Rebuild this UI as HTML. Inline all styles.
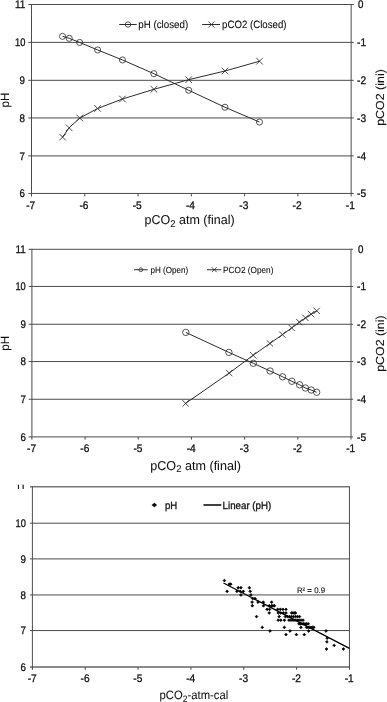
<!DOCTYPE html>
<html lang="en"><head><meta charset="utf-8"><title>pH vs pCO2 charts</title>
<style>
html,body{margin:0;padding:0;background:#fff;}
svg{display:block;font-family:"Liberation Sans",sans-serif;}
text{stroke:#111;stroke-width:0.1px;text-rendering:geometricPrecision;}
text.t{stroke-width:0.06px;}
text.k{stroke-width:0.3px;}
</style></head><body>
<svg width="387" height="702" viewBox="0 0 387 702">
<defs><clipPath id="c3"><rect x="0" y="484.5" width="387" height="218"/></clipPath><clipPath id="c11"><rect x="0" y="484.5" width="30" height="4.55"/></clipPath></defs>
<rect width="387" height="702" fill="#fff"/>
<line x1="28.30" y1="4.50" x2="353.75" y2="4.50" stroke="#4c4c4c" stroke-width="1"/>
<line x1="28.30" y1="42.38" x2="353.75" y2="42.38" stroke="#4c4c4c" stroke-width="1"/>
<line x1="28.30" y1="80.32" x2="353.75" y2="80.32" stroke="#4c4c4c" stroke-width="1"/>
<line x1="28.30" y1="117.95" x2="353.75" y2="117.95" stroke="#4c4c4c" stroke-width="1"/>
<line x1="28.30" y1="155.90" x2="353.75" y2="155.90" stroke="#4c4c4c" stroke-width="1"/>
<line x1="28.30" y1="193.45" x2="353.75" y2="193.45" stroke="#4c4c4c" stroke-width="1"/>
<line x1="31.50" y1="4.00" x2="31.50" y2="196.45" stroke="#4c4c4c" stroke-width="1"/>
<line x1="351.15" y1="4.00" x2="351.15" y2="196.45" stroke="#4c4c4c" stroke-width="1"/>
<line x1="84.78" y1="193.45" x2="84.78" y2="196.45" stroke="#4c4c4c" stroke-width="1"/>
<line x1="138.05" y1="193.45" x2="138.05" y2="196.45" stroke="#4c4c4c" stroke-width="1"/>
<line x1="191.32" y1="193.45" x2="191.32" y2="196.45" stroke="#4c4c4c" stroke-width="1"/>
<line x1="244.60" y1="193.45" x2="244.60" y2="196.45" stroke="#4c4c4c" stroke-width="1"/>
<line x1="297.88" y1="193.45" x2="297.88" y2="196.45" stroke="#4c4c4c" stroke-width="1"/>
<text class="k" x="25.40" y="8.25" font-size="11" text-anchor="end" textLength="10.34" lengthAdjust="spacingAndGlyphs" fill="#111111">11</text>
<text class="k" x="25.40" y="46.13" font-size="11" text-anchor="end" textLength="10.34" lengthAdjust="spacingAndGlyphs" fill="#111111">10</text>
<text class="k" x="24.90" y="84.07" font-size="11" text-anchor="end" textLength="5.44" lengthAdjust="spacingAndGlyphs" fill="#111111">9</text>
<text class="k" x="24.90" y="121.70" font-size="11" text-anchor="end" textLength="5.44" lengthAdjust="spacingAndGlyphs" fill="#111111">8</text>
<text class="k" x="24.90" y="159.65" font-size="11" text-anchor="end" textLength="5.44" lengthAdjust="spacingAndGlyphs" fill="#111111">7</text>
<text class="k" x="24.90" y="197.20" font-size="11" text-anchor="end" textLength="5.44" lengthAdjust="spacingAndGlyphs" fill="#111111">6</text>
<text class="k" x="358.00" y="8.15" font-size="11" textLength="5.44" lengthAdjust="spacingAndGlyphs" fill="#111111">0</text>
<text class="k" x="357.00" y="46.03" font-size="11" textLength="9.05" lengthAdjust="spacingAndGlyphs" fill="#111111">-1</text>
<text class="k" x="357.00" y="83.97" font-size="11" textLength="9.05" lengthAdjust="spacingAndGlyphs" fill="#111111">-2</text>
<text class="k" x="357.00" y="121.60" font-size="11" textLength="9.05" lengthAdjust="spacingAndGlyphs" fill="#111111">-3</text>
<text class="k" x="357.00" y="159.55" font-size="11" textLength="9.05" lengthAdjust="spacingAndGlyphs" fill="#111111">-4</text>
<text class="k" x="357.00" y="197.10" font-size="11" textLength="9.05" lengthAdjust="spacingAndGlyphs" fill="#111111">-5</text>
<text class="k" x="30.70" y="209.30" font-size="11" text-anchor="middle" textLength="9.05" lengthAdjust="spacingAndGlyphs" fill="#111111">-7</text>
<text class="k" x="83.98" y="209.30" font-size="11" text-anchor="middle" textLength="9.05" lengthAdjust="spacingAndGlyphs" fill="#111111">-6</text>
<text class="k" x="137.25" y="209.30" font-size="11" text-anchor="middle" textLength="9.05" lengthAdjust="spacingAndGlyphs" fill="#111111">-5</text>
<text class="k" x="190.52" y="209.30" font-size="11" text-anchor="middle" textLength="9.05" lengthAdjust="spacingAndGlyphs" fill="#111111">-4</text>
<text class="k" x="243.80" y="209.30" font-size="11" text-anchor="middle" textLength="9.05" lengthAdjust="spacingAndGlyphs" fill="#111111">-3</text>
<text class="k" x="297.07" y="209.30" font-size="11" text-anchor="middle" textLength="9.05" lengthAdjust="spacingAndGlyphs" fill="#111111">-2</text>
<text class="k" x="350.35" y="209.30" font-size="11" text-anchor="middle" textLength="9.05" lengthAdjust="spacingAndGlyphs" fill="#111111">-1</text>
<polyline points="62.55,36.35 69.25,38.35 79.65,42.45 97.65,49.95 122.45,59.95 153.85,73.65 188.65,90.25 224.95,107.25 259.45,122.05" fill="none" stroke="#2c2c2c" stroke-width="1"/>
<polyline points="62.55,137.10 69.15,127.80 79.75,118.00 97.65,108.50 122.45,99.00 153.95,89.30 188.65,79.70 224.95,71.00 259.55,61.20" fill="none" stroke="#2c2c2c" stroke-width="1"/>
<circle cx="62.55" cy="36.35" r="3.05" fill="none" stroke="#2c2c2c" stroke-width="0.8"/>
<circle cx="69.25" cy="38.35" r="3.05" fill="none" stroke="#2c2c2c" stroke-width="0.8"/>
<circle cx="79.65" cy="42.45" r="3.05" fill="none" stroke="#2c2c2c" stroke-width="0.8"/>
<circle cx="97.65" cy="49.95" r="3.05" fill="none" stroke="#2c2c2c" stroke-width="0.8"/>
<circle cx="122.45" cy="59.95" r="3.05" fill="none" stroke="#2c2c2c" stroke-width="0.8"/>
<circle cx="153.85" cy="73.65" r="3.05" fill="none" stroke="#2c2c2c" stroke-width="0.8"/>
<circle cx="188.65" cy="90.25" r="3.05" fill="none" stroke="#2c2c2c" stroke-width="0.8"/>
<circle cx="224.95" cy="107.25" r="3.05" fill="none" stroke="#2c2c2c" stroke-width="0.8"/>
<circle cx="259.45" cy="122.05" r="3.05" fill="none" stroke="#2c2c2c" stroke-width="0.8"/>
<path d="M59.25 133.80L65.85 140.40M59.25 140.40L65.85 133.80" stroke="#2c2c2c" stroke-width="0.85" fill="none"/>
<path d="M65.85 124.50L72.45 131.10M65.85 131.10L72.45 124.50" stroke="#2c2c2c" stroke-width="0.85" fill="none"/>
<path d="M76.45 114.70L83.05 121.30M76.45 121.30L83.05 114.70" stroke="#2c2c2c" stroke-width="0.85" fill="none"/>
<path d="M94.35 105.20L100.95 111.80M94.35 111.80L100.95 105.20" stroke="#2c2c2c" stroke-width="0.85" fill="none"/>
<path d="M119.15 95.70L125.75 102.30M119.15 102.30L125.75 95.70" stroke="#2c2c2c" stroke-width="0.85" fill="none"/>
<path d="M150.65 86.00L157.25 92.60M150.65 92.60L157.25 86.00" stroke="#2c2c2c" stroke-width="0.85" fill="none"/>
<path d="M185.35 76.40L191.95 83.00M185.35 83.00L191.95 76.40" stroke="#2c2c2c" stroke-width="0.85" fill="none"/>
<path d="M221.65 67.70L228.25 74.30M221.65 74.30L228.25 67.70" stroke="#2c2c2c" stroke-width="0.85" fill="none"/>
<path d="M256.25 57.90L262.85 64.50M256.25 64.50L262.85 57.90" stroke="#2c2c2c" stroke-width="0.85" fill="none"/>
<line x1="119.20" y1="24.50" x2="136.70" y2="24.50" stroke="#2c2c2c" stroke-width="1"/>
<circle cx="128.00" cy="24.50" r="2.75" fill="none" stroke="#2c2c2c" stroke-width="0.8"/>
<text class="l" x="138.30" y="28.10" font-size="10.6" textLength="49.90" lengthAdjust="spacingAndGlyphs" fill="#111111">pH (closed)</text>
<line x1="202.20" y1="24.50" x2="220.00" y2="24.50" stroke="#2c2c2c" stroke-width="1"/>
<path d="M208.40 21.50L214.40 27.50M208.40 27.50L214.40 21.50" stroke="#2c2c2c" stroke-width="0.85" fill="none"/>
<text class="l" x="222.10" y="28.10" font-size="10.6" textLength="64.40" lengthAdjust="spacingAndGlyphs" fill="#111111">pCO2 (Closed)</text>
<text class="t" x="9.40" y="107.40" font-size="12" textLength="14.90" lengthAdjust="spacingAndGlyphs" transform="rotate(-90 9.40 107.40)" fill="#111111">pH</text>
<text class="t" x="383.70" y="125.80" font-size="11.7" textLength="56.60" lengthAdjust="spacingAndGlyphs" transform="rotate(-90 383.70 125.80)" fill="#111111">pCO2 (ini)</text>
<text class="t" x="144.6" y="224.45" font-size="12.8" fill="#111111" textLength="90.0" lengthAdjust="spacingAndGlyphs">pCO<tspan font-size="9.8" dy="2.6">2</tspan><tspan dy="-2.6"> atm (final)</tspan></text>
<line x1="28.70" y1="249.30" x2="353.10" y2="249.30" stroke="#4c4c4c" stroke-width="1"/>
<line x1="28.70" y1="286.45" x2="353.10" y2="286.45" stroke="#4c4c4c" stroke-width="1"/>
<line x1="28.70" y1="324.25" x2="353.10" y2="324.25" stroke="#4c4c4c" stroke-width="1"/>
<line x1="28.70" y1="361.55" x2="353.10" y2="361.55" stroke="#4c4c4c" stroke-width="1"/>
<line x1="28.70" y1="399.25" x2="353.10" y2="399.25" stroke="#4c4c4c" stroke-width="1"/>
<line x1="28.70" y1="436.90" x2="353.10" y2="436.90" stroke="#4c4c4c" stroke-width="1"/>
<line x1="31.90" y1="248.80" x2="31.90" y2="439.60" stroke="#4c4c4c" stroke-width="1"/>
<line x1="351.00" y1="248.80" x2="351.00" y2="439.60" stroke="#4c4c4c" stroke-width="1"/>
<line x1="85.08" y1="436.90" x2="85.08" y2="439.60" stroke="#4c4c4c" stroke-width="1"/>
<line x1="138.27" y1="436.90" x2="138.27" y2="439.60" stroke="#4c4c4c" stroke-width="1"/>
<line x1="191.45" y1="436.90" x2="191.45" y2="439.60" stroke="#4c4c4c" stroke-width="1"/>
<line x1="244.63" y1="436.90" x2="244.63" y2="439.60" stroke="#4c4c4c" stroke-width="1"/>
<line x1="297.82" y1="436.90" x2="297.82" y2="439.60" stroke="#4c4c4c" stroke-width="1"/>
<text class="k" x="25.80" y="253.05" font-size="11" text-anchor="end" textLength="10.34" lengthAdjust="spacingAndGlyphs" fill="#111111">11</text>
<text class="k" x="25.80" y="290.20" font-size="11" text-anchor="end" textLength="10.34" lengthAdjust="spacingAndGlyphs" fill="#111111">10</text>
<text class="k" x="26.00" y="328.00" font-size="11" text-anchor="end" textLength="5.44" lengthAdjust="spacingAndGlyphs" fill="#111111">9</text>
<text class="k" x="26.00" y="365.30" font-size="11" text-anchor="end" textLength="5.44" lengthAdjust="spacingAndGlyphs" fill="#111111">8</text>
<text class="k" x="26.00" y="403.00" font-size="11" text-anchor="end" textLength="5.44" lengthAdjust="spacingAndGlyphs" fill="#111111">7</text>
<text class="k" x="26.00" y="440.65" font-size="11" text-anchor="end" textLength="5.44" lengthAdjust="spacingAndGlyphs" fill="#111111">6</text>
<text class="k" x="358.00" y="252.95" font-size="11" textLength="5.44" lengthAdjust="spacingAndGlyphs" fill="#111111">0</text>
<text class="k" x="357.00" y="290.10" font-size="11" textLength="9.05" lengthAdjust="spacingAndGlyphs" fill="#111111">-1</text>
<text class="k" x="357.00" y="327.90" font-size="11" textLength="9.05" lengthAdjust="spacingAndGlyphs" fill="#111111">-2</text>
<text class="k" x="357.00" y="365.20" font-size="11" textLength="9.05" lengthAdjust="spacingAndGlyphs" fill="#111111">-3</text>
<text class="k" x="357.00" y="402.90" font-size="11" textLength="9.05" lengthAdjust="spacingAndGlyphs" fill="#111111">-4</text>
<text class="k" x="357.00" y="440.55" font-size="11" textLength="9.05" lengthAdjust="spacingAndGlyphs" fill="#111111">-5</text>
<text class="k" x="31.60" y="452.30" font-size="11" text-anchor="middle" textLength="9.05" lengthAdjust="spacingAndGlyphs" fill="#111111">-7</text>
<text class="k" x="84.78" y="452.30" font-size="11" text-anchor="middle" textLength="9.05" lengthAdjust="spacingAndGlyphs" fill="#111111">-6</text>
<text class="k" x="137.97" y="452.30" font-size="11" text-anchor="middle" textLength="9.05" lengthAdjust="spacingAndGlyphs" fill="#111111">-5</text>
<text class="k" x="191.15" y="452.30" font-size="11" text-anchor="middle" textLength="9.05" lengthAdjust="spacingAndGlyphs" fill="#111111">-4</text>
<text class="k" x="244.33" y="452.30" font-size="11" text-anchor="middle" textLength="9.05" lengthAdjust="spacingAndGlyphs" fill="#111111">-3</text>
<text class="k" x="297.52" y="452.30" font-size="11" text-anchor="middle" textLength="9.05" lengthAdjust="spacingAndGlyphs" fill="#111111">-2</text>
<text class="k" x="350.70" y="452.30" font-size="11" text-anchor="middle" textLength="9.05" lengthAdjust="spacingAndGlyphs" fill="#111111">-1</text>
<polyline points="185.80,332.40 228.90,352.40 253.30,363.30 270.10,371.00 282.60,376.80 291.90,381.30 299.60,384.80 305.40,388.00 311.20,390.00 316.70,392.30" fill="none" stroke="#2c2c2c" stroke-width="1"/>
<polyline points="185.60,403.35 229.20,373.05 253.10,355.25 269.90,343.45 282.40,334.65 291.70,327.95 299.40,322.15 305.50,317.95 311.20,314.15 316.70,310.85" fill="none" stroke="#2c2c2c" stroke-width="1"/>
<circle cx="185.80" cy="332.40" r="3.2" fill="none" stroke="#2c2c2c" stroke-width="0.8"/>
<circle cx="228.90" cy="352.40" r="3.2" fill="none" stroke="#2c2c2c" stroke-width="0.8"/>
<circle cx="253.30" cy="363.30" r="3.2" fill="none" stroke="#2c2c2c" stroke-width="0.8"/>
<circle cx="270.10" cy="371.00" r="3.2" fill="none" stroke="#2c2c2c" stroke-width="0.8"/>
<circle cx="282.60" cy="376.80" r="3.2" fill="none" stroke="#2c2c2c" stroke-width="0.8"/>
<circle cx="291.90" cy="381.30" r="3.2" fill="none" stroke="#2c2c2c" stroke-width="0.8"/>
<circle cx="299.60" cy="384.80" r="3.2" fill="none" stroke="#2c2c2c" stroke-width="0.8"/>
<circle cx="305.40" cy="388.00" r="3.2" fill="none" stroke="#2c2c2c" stroke-width="0.8"/>
<circle cx="311.20" cy="390.00" r="3.2" fill="none" stroke="#2c2c2c" stroke-width="0.8"/>
<circle cx="316.70" cy="392.30" r="3.2" fill="none" stroke="#2c2c2c" stroke-width="0.8"/>
<path d="M182.40 400.15L188.80 406.55M182.40 406.55L188.80 400.15" stroke="#2c2c2c" stroke-width="0.85" fill="none"/>
<path d="M226.00 369.85L232.40 376.25M226.00 376.25L232.40 369.85" stroke="#2c2c2c" stroke-width="0.85" fill="none"/>
<path d="M249.90 352.05L256.30 358.45M249.90 358.45L256.30 352.05" stroke="#2c2c2c" stroke-width="0.85" fill="none"/>
<path d="M266.70 340.25L273.10 346.65M266.70 346.65L273.10 340.25" stroke="#2c2c2c" stroke-width="0.85" fill="none"/>
<path d="M279.20 331.45L285.60 337.85M279.20 337.85L285.60 331.45" stroke="#2c2c2c" stroke-width="0.85" fill="none"/>
<path d="M288.50 324.75L294.90 331.15M288.50 331.15L294.90 324.75" stroke="#2c2c2c" stroke-width="0.85" fill="none"/>
<path d="M296.20 318.95L302.60 325.35M296.20 325.35L302.60 318.95" stroke="#2c2c2c" stroke-width="0.85" fill="none"/>
<path d="M302.30 314.75L308.70 321.15M302.30 321.15L308.70 314.75" stroke="#2c2c2c" stroke-width="0.85" fill="none"/>
<path d="M308.00 310.95L314.40 317.35M308.00 317.35L314.40 310.95" stroke="#2c2c2c" stroke-width="0.85" fill="none"/>
<path d="M313.50 307.65L319.90 314.05M313.50 314.05L319.90 307.65" stroke="#2c2c2c" stroke-width="0.85" fill="none"/>
<line x1="134.10" y1="269.75" x2="147.80" y2="269.75" stroke="#2c2c2c" stroke-width="1"/>
<circle cx="140.80" cy="269.75" r="1.9" fill="none" stroke="#2c2c2c" stroke-width="0.8"/>
<text class="l" x="150.40" y="273.30" font-size="8.9" textLength="37.70" lengthAdjust="spacingAndGlyphs" fill="#111111">pH (Open)</text>
<line x1="207.00" y1="269.75" x2="221.30" y2="269.75" stroke="#2c2c2c" stroke-width="1"/>
<path d="M211.80 267.35L216.60 272.15M211.80 272.15L216.60 267.35" stroke="#2c2c2c" stroke-width="0.85" fill="none"/>
<text class="l" x="223.10" y="273.30" font-size="8.9" textLength="50.30" lengthAdjust="spacingAndGlyphs" fill="#111111">PCO2 (Open)</text>
<text class="t" x="9.40" y="350.80" font-size="12" textLength="14.90" lengthAdjust="spacingAndGlyphs" transform="rotate(-90 9.40 350.80)" fill="#111111">pH</text>
<text class="t" x="383.70" y="371.80" font-size="11.7" textLength="56.40" lengthAdjust="spacingAndGlyphs" transform="rotate(-90 383.70 371.80)" fill="#111111">pCO2 (ini)</text>
<text class="t" x="150.3" y="469.6" font-size="12.8" fill="#111111" textLength="90.6" lengthAdjust="spacingAndGlyphs">pCO<tspan font-size="9.8" dy="2.6">2</tspan><tspan dy="-2.6"> atm (final)</tspan></text>
<g clip-path="url(#c3)">
<line x1="30.00" y1="486.75" x2="349.45" y2="486.75" stroke="#777" stroke-width="1.7"/>
<line x1="30.00" y1="523.20" x2="349.45" y2="523.20" stroke="#4c4c4c" stroke-width="1"/>
<line x1="30.00" y1="558.90" x2="349.45" y2="558.90" stroke="#4c4c4c" stroke-width="1"/>
<line x1="30.00" y1="594.95" x2="349.45" y2="594.95" stroke="#4c4c4c" stroke-width="1"/>
<line x1="30.00" y1="630.55" x2="349.45" y2="630.55" stroke="#4c4c4c" stroke-width="1"/>
<line x1="30.00" y1="667.00" x2="349.45" y2="667.00" stroke="#666" stroke-width="1.5"/>
<line x1="32.40" y1="486.25" x2="32.40" y2="669.80" stroke="#4c4c4c" stroke-width="1"/>
<line x1="349.45" y1="486.25" x2="349.45" y2="667.50" stroke="#4c4c4c" stroke-width="1"/>
<line x1="85.24" y1="667.00" x2="85.24" y2="669.80" stroke="#4c4c4c" stroke-width="1"/>
<line x1="138.08" y1="667.00" x2="138.08" y2="669.80" stroke="#4c4c4c" stroke-width="1"/>
<line x1="190.93" y1="667.00" x2="190.93" y2="669.80" stroke="#4c4c4c" stroke-width="1"/>
<line x1="243.77" y1="667.00" x2="243.77" y2="669.80" stroke="#4c4c4c" stroke-width="1"/>
<line x1="296.61" y1="667.00" x2="296.61" y2="669.80" stroke="#4c4c4c" stroke-width="1"/>
<line x1="349.45" y1="667.00" x2="349.45" y2="669.80" stroke="#4c4c4c" stroke-width="1"/>
<g clip-path="url(#c11)">
<text class="k" x="25.90" y="489.75" font-size="11" text-anchor="end" textLength="10.34" lengthAdjust="spacingAndGlyphs" fill="#111111">11</text>
</g>
<text class="k" x="25.90" y="526.85" font-size="11" text-anchor="end" textLength="10.34" lengthAdjust="spacingAndGlyphs" fill="#111111">10</text>
<text class="k" x="25.90" y="562.55" font-size="11" text-anchor="end" textLength="5.44" lengthAdjust="spacingAndGlyphs" fill="#111111">9</text>
<text class="k" x="25.90" y="598.60" font-size="11" text-anchor="end" textLength="5.44" lengthAdjust="spacingAndGlyphs" fill="#111111">8</text>
<text class="k" x="25.90" y="634.20" font-size="11" text-anchor="end" textLength="5.44" lengthAdjust="spacingAndGlyphs" fill="#111111">7</text>
<text class="k" x="25.90" y="670.65" font-size="11" text-anchor="end" textLength="5.44" lengthAdjust="spacingAndGlyphs" fill="#111111">6</text>
<text class="k" x="32.20" y="682.20" font-size="11" text-anchor="middle" textLength="9.05" lengthAdjust="spacingAndGlyphs" fill="#111111">-7</text>
<text class="k" x="85.04" y="682.20" font-size="11" text-anchor="middle" textLength="9.05" lengthAdjust="spacingAndGlyphs" fill="#111111">-6</text>
<text class="k" x="137.88" y="682.20" font-size="11" text-anchor="middle" textLength="9.05" lengthAdjust="spacingAndGlyphs" fill="#111111">-5</text>
<text class="k" x="190.73" y="682.20" font-size="11" text-anchor="middle" textLength="9.05" lengthAdjust="spacingAndGlyphs" fill="#111111">-4</text>
<text class="k" x="243.57" y="682.20" font-size="11" text-anchor="middle" textLength="9.05" lengthAdjust="spacingAndGlyphs" fill="#111111">-3</text>
<text class="k" x="296.41" y="682.20" font-size="11" text-anchor="middle" textLength="9.05" lengthAdjust="spacingAndGlyphs" fill="#111111">-2</text>
<text class="k" x="349.25" y="682.20" font-size="11" text-anchor="middle" textLength="9.05" lengthAdjust="spacingAndGlyphs" fill="#111111">-1</text>
<path d="M223.00 580.53L224.40 579.13L225.80 580.53L224.40 581.93Z" fill="#000" stroke="#000" stroke-width="0.7" stroke-linejoin="round"/>
<path d="M227.90 584.13L229.30 582.74L230.70 584.13L229.30 585.53Z" fill="#000" stroke="#000" stroke-width="0.7" stroke-linejoin="round"/>
<path d="M229.40 584.13L230.80 582.74L232.20 584.13L230.80 585.53Z" fill="#000" stroke="#000" stroke-width="0.7" stroke-linejoin="round"/>
<path d="M225.70 591.35L227.10 589.95L228.50 591.35L227.10 592.75Z" fill="#000" stroke="#000" stroke-width="0.7" stroke-linejoin="round"/>
<path d="M236.80 587.74L238.20 586.34L239.60 587.74L238.20 589.14Z" fill="#000" stroke="#000" stroke-width="0.7" stroke-linejoin="round"/>
<path d="M239.50 587.74L240.90 586.34L242.30 587.74L240.90 589.14Z" fill="#000" stroke="#000" stroke-width="0.7" stroke-linejoin="round"/>
<path d="M235.50 591.35L236.90 589.95L238.30 591.35L236.90 592.75Z" fill="#000" stroke="#000" stroke-width="0.7" stroke-linejoin="round"/>
<path d="M238.80 591.35L240.20 589.95L241.60 591.35L240.20 592.75Z" fill="#000" stroke="#000" stroke-width="0.7" stroke-linejoin="round"/>
<path d="M241.90 591.35L243.30 589.95L244.70 591.35L243.30 592.75Z" fill="#000" stroke="#000" stroke-width="0.7" stroke-linejoin="round"/>
<path d="M239.50 594.95L240.90 593.55L242.30 594.95L240.90 596.35Z" fill="#000" stroke="#000" stroke-width="0.7" stroke-linejoin="round"/>
<path d="M248.00 587.74L249.40 586.34L250.80 587.74L249.40 589.14Z" fill="#000" stroke="#000" stroke-width="0.7" stroke-linejoin="round"/>
<path d="M248.80 591.35L250.20 589.95L251.60 591.35L250.20 592.75Z" fill="#000" stroke="#000" stroke-width="0.7" stroke-linejoin="round"/>
<path d="M249.50 594.95L250.90 593.55L252.30 594.95L250.90 596.35Z" fill="#000" stroke="#000" stroke-width="0.7" stroke-linejoin="round"/>
<path d="M251.30 598.55L252.70 597.15L254.10 598.55L252.70 599.95Z" fill="#000" stroke="#000" stroke-width="0.7" stroke-linejoin="round"/>
<path d="M253.60 598.55L255.00 597.15L256.40 598.55L255.00 599.95Z" fill="#000" stroke="#000" stroke-width="0.7" stroke-linejoin="round"/>
<path d="M250.70 602.16L252.10 600.76L253.50 602.16L252.10 603.56Z" fill="#000" stroke="#000" stroke-width="0.7" stroke-linejoin="round"/>
<path d="M250.90 605.76L252.30 604.37L253.70 605.76L252.30 607.16Z" fill="#000" stroke="#000" stroke-width="0.7" stroke-linejoin="round"/>
<path d="M256.60 602.16L258.00 600.76L259.40 602.16L258.00 603.56Z" fill="#000" stroke="#000" stroke-width="0.7" stroke-linejoin="round"/>
<path d="M261.90 602.16L263.30 600.76L264.70 602.16L263.30 603.56Z" fill="#000" stroke="#000" stroke-width="0.7" stroke-linejoin="round"/>
<path d="M262.10 605.76L263.50 604.37L264.90 605.76L263.50 607.16Z" fill="#000" stroke="#000" stroke-width="0.7" stroke-linejoin="round"/>
<path d="M270.20 602.16L271.60 600.76L273.00 602.16L271.60 603.56Z" fill="#000" stroke="#000" stroke-width="0.7" stroke-linejoin="round"/>
<path d="M267.80 605.76L269.20 604.37L270.60 605.76L269.20 607.16Z" fill="#000" stroke="#000" stroke-width="0.7" stroke-linejoin="round"/>
<path d="M270.20 605.76L271.60 604.37L273.00 605.76L271.60 607.16Z" fill="#000" stroke="#000" stroke-width="0.7" stroke-linejoin="round"/>
<path d="M273.00 605.76L274.40 604.37L275.80 605.76L274.40 607.16Z" fill="#000" stroke="#000" stroke-width="0.7" stroke-linejoin="round"/>
<path d="M271.60 605.76L273.00 604.37L274.40 605.76L273.00 607.16Z" fill="#000" stroke="#000" stroke-width="0.7" stroke-linejoin="round"/>
<path d="M265.70 609.37L267.10 607.97L268.50 609.37L267.10 610.77Z" fill="#000" stroke="#000" stroke-width="0.7" stroke-linejoin="round"/>
<path d="M268.10 609.37L269.50 607.97L270.90 609.37L269.50 610.77Z" fill="#000" stroke="#000" stroke-width="0.7" stroke-linejoin="round"/>
<path d="M267.80 612.97L269.20 611.57L270.60 612.97L269.20 614.37Z" fill="#000" stroke="#000" stroke-width="0.7" stroke-linejoin="round"/>
<path d="M255.10 616.58L256.50 615.18L257.90 616.58L256.50 617.98Z" fill="#000" stroke="#000" stroke-width="0.7" stroke-linejoin="round"/>
<path d="M276.30 609.37L277.70 607.97L279.10 609.37L277.70 610.77Z" fill="#000" stroke="#000" stroke-width="0.7" stroke-linejoin="round"/>
<path d="M278.90 609.37L280.30 607.97L281.70 609.37L280.30 610.77Z" fill="#000" stroke="#000" stroke-width="0.7" stroke-linejoin="round"/>
<path d="M281.50 609.37L282.90 607.97L284.30 609.37L282.90 610.77Z" fill="#000" stroke="#000" stroke-width="0.7" stroke-linejoin="round"/>
<path d="M284.60 609.37L286.00 607.97L287.40 609.37L286.00 610.77Z" fill="#000" stroke="#000" stroke-width="0.7" stroke-linejoin="round"/>
<path d="M276.80 612.97L278.20 611.57L279.60 612.97L278.20 614.37Z" fill="#000" stroke="#000" stroke-width="0.7" stroke-linejoin="round"/>
<path d="M279.40 612.97L280.80 611.57L282.20 612.97L280.80 614.37Z" fill="#000" stroke="#000" stroke-width="0.7" stroke-linejoin="round"/>
<path d="M282.00 612.97L283.40 611.57L284.80 612.97L283.40 614.37Z" fill="#000" stroke="#000" stroke-width="0.7" stroke-linejoin="round"/>
<path d="M284.60 612.97L286.00 611.57L287.40 612.97L286.00 614.37Z" fill="#000" stroke="#000" stroke-width="0.7" stroke-linejoin="round"/>
<path d="M290.20 612.97L291.60 611.57L293.00 612.97L291.60 614.37Z" fill="#000" stroke="#000" stroke-width="0.7" stroke-linejoin="round"/>
<path d="M291.50 612.97L292.90 611.57L294.30 612.97L292.90 614.37Z" fill="#000" stroke="#000" stroke-width="0.7" stroke-linejoin="round"/>
<path d="M292.80 612.97L294.20 611.57L295.60 612.97L294.20 614.37Z" fill="#000" stroke="#000" stroke-width="0.7" stroke-linejoin="round"/>
<path d="M294.10 612.97L295.50 611.57L296.90 612.97L295.50 614.37Z" fill="#000" stroke="#000" stroke-width="0.7" stroke-linejoin="round"/>
<path d="M277.80 616.58L279.20 615.18L280.60 616.58L279.20 617.98Z" fill="#000" stroke="#000" stroke-width="0.7" stroke-linejoin="round"/>
<path d="M284.00 616.58L285.40 615.18L286.80 616.58L285.40 617.98Z" fill="#000" stroke="#000" stroke-width="0.7" stroke-linejoin="round"/>
<path d="M286.10 616.58L287.50 615.18L288.90 616.58L287.50 617.98Z" fill="#000" stroke="#000" stroke-width="0.7" stroke-linejoin="round"/>
<path d="M288.10 616.58L289.50 615.18L290.90 616.58L289.50 617.98Z" fill="#000" stroke="#000" stroke-width="0.7" stroke-linejoin="round"/>
<path d="M290.10 616.58L291.50 615.18L292.90 616.58L291.50 617.98Z" fill="#000" stroke="#000" stroke-width="0.7" stroke-linejoin="round"/>
<path d="M292.10 616.58L293.50 615.18L294.90 616.58L293.50 617.98Z" fill="#000" stroke="#000" stroke-width="0.7" stroke-linejoin="round"/>
<path d="M294.10 616.58L295.50 615.18L296.90 616.58L295.50 617.98Z" fill="#000" stroke="#000" stroke-width="0.7" stroke-linejoin="round"/>
<path d="M296.10 616.58L297.50 615.18L298.90 616.58L297.50 617.98Z" fill="#000" stroke="#000" stroke-width="0.7" stroke-linejoin="round"/>
<path d="M298.10 616.58L299.50 615.18L300.90 616.58L299.50 617.98Z" fill="#000" stroke="#000" stroke-width="0.7" stroke-linejoin="round"/>
<path d="M276.80 620.18L278.20 618.78L279.60 620.18L278.20 621.58Z" fill="#000" stroke="#000" stroke-width="0.7" stroke-linejoin="round"/>
<path d="M279.40 620.18L280.80 618.78L282.20 620.18L280.80 621.58Z" fill="#000" stroke="#000" stroke-width="0.7" stroke-linejoin="round"/>
<path d="M283.00 620.18L284.40 618.78L285.80 620.18L284.40 621.58Z" fill="#000" stroke="#000" stroke-width="0.7" stroke-linejoin="round"/>
<path d="M287.60 620.18L289.00 618.78L290.40 620.18L289.00 621.58Z" fill="#000" stroke="#000" stroke-width="0.7" stroke-linejoin="round"/>
<path d="M289.60 620.18L291.00 618.78L292.40 620.18L291.00 621.58Z" fill="#000" stroke="#000" stroke-width="0.7" stroke-linejoin="round"/>
<path d="M291.60 620.18L293.00 618.78L294.40 620.18L293.00 621.58Z" fill="#000" stroke="#000" stroke-width="0.7" stroke-linejoin="round"/>
<path d="M293.60 620.18L295.00 618.78L296.40 620.18L295.00 621.58Z" fill="#000" stroke="#000" stroke-width="0.7" stroke-linejoin="round"/>
<path d="M295.60 620.18L297.00 618.78L298.40 620.18L297.00 621.58Z" fill="#000" stroke="#000" stroke-width="0.7" stroke-linejoin="round"/>
<path d="M297.60 620.18L299.00 618.78L300.40 620.18L299.00 621.58Z" fill="#000" stroke="#000" stroke-width="0.7" stroke-linejoin="round"/>
<path d="M299.60 620.18L301.00 618.78L302.40 620.18L301.00 621.58Z" fill="#000" stroke="#000" stroke-width="0.7" stroke-linejoin="round"/>
<path d="M301.60 620.18L303.00 618.78L304.40 620.18L303.00 621.58Z" fill="#000" stroke="#000" stroke-width="0.7" stroke-linejoin="round"/>
<path d="M297.60 623.79L299.00 622.39L300.40 623.79L299.00 625.19Z" fill="#000" stroke="#000" stroke-width="0.7" stroke-linejoin="round"/>
<path d="M299.10 623.79L300.50 622.39L301.90 623.79L300.50 625.19Z" fill="#000" stroke="#000" stroke-width="0.7" stroke-linejoin="round"/>
<path d="M300.60 623.79L302.00 622.39L303.40 623.79L302.00 625.19Z" fill="#000" stroke="#000" stroke-width="0.7" stroke-linejoin="round"/>
<path d="M302.10 623.79L303.50 622.39L304.90 623.79L303.50 625.19Z" fill="#000" stroke="#000" stroke-width="0.7" stroke-linejoin="round"/>
<path d="M303.60 623.79L305.00 622.39L306.40 623.79L305.00 625.19Z" fill="#000" stroke="#000" stroke-width="0.7" stroke-linejoin="round"/>
<path d="M305.10 623.79L306.50 622.39L307.90 623.79L306.50 625.19Z" fill="#000" stroke="#000" stroke-width="0.7" stroke-linejoin="round"/>
<path d="M306.80 623.79L308.20 622.39L309.60 623.79L308.20 625.19Z" fill="#000" stroke="#000" stroke-width="0.7" stroke-linejoin="round"/>
<path d="M260.90 627.39L262.30 626.00L263.70 627.39L262.30 628.79Z" fill="#000" stroke="#000" stroke-width="0.7" stroke-linejoin="round"/>
<path d="M283.00 627.39L284.40 626.00L285.80 627.39L284.40 628.79Z" fill="#000" stroke="#000" stroke-width="0.7" stroke-linejoin="round"/>
<path d="M299.50 627.39L300.90 626.00L302.30 627.39L300.90 628.79Z" fill="#000" stroke="#000" stroke-width="0.7" stroke-linejoin="round"/>
<path d="M305.10 627.39L306.50 626.00L307.90 627.39L306.50 628.79Z" fill="#000" stroke="#000" stroke-width="0.7" stroke-linejoin="round"/>
<path d="M306.60 627.39L308.00 626.00L309.40 627.39L308.00 628.79Z" fill="#000" stroke="#000" stroke-width="0.7" stroke-linejoin="round"/>
<path d="M308.10 627.39L309.50 626.00L310.90 627.39L309.50 628.79Z" fill="#000" stroke="#000" stroke-width="0.7" stroke-linejoin="round"/>
<path d="M309.60 627.39L311.00 626.00L312.40 627.39L311.00 628.79Z" fill="#000" stroke="#000" stroke-width="0.7" stroke-linejoin="round"/>
<path d="M311.10 627.39L312.50 626.00L313.90 627.39L312.50 628.79Z" fill="#000" stroke="#000" stroke-width="0.7" stroke-linejoin="round"/>
<path d="M312.40 627.39L313.80 626.00L315.20 627.39L313.80 628.79Z" fill="#000" stroke="#000" stroke-width="0.7" stroke-linejoin="round"/>
<path d="M268.60 631.00L270.00 629.60L271.40 631.00L270.00 632.40Z" fill="#000" stroke="#000" stroke-width="0.7" stroke-linejoin="round"/>
<path d="M288.60 631.00L290.00 629.60L291.40 631.00L290.00 632.40Z" fill="#000" stroke="#000" stroke-width="0.7" stroke-linejoin="round"/>
<path d="M307.20 631.00L308.60 629.60L310.00 631.00L308.60 632.40Z" fill="#000" stroke="#000" stroke-width="0.7" stroke-linejoin="round"/>
<path d="M324.60 631.00L326.00 629.60L327.40 631.00L326.00 632.40Z" fill="#000" stroke="#000" stroke-width="0.7" stroke-linejoin="round"/>
<path d="M284.60 634.60L286.00 633.20L287.40 634.60L286.00 636.00Z" fill="#000" stroke="#000" stroke-width="0.7" stroke-linejoin="round"/>
<path d="M295.00 634.60L296.40 633.20L297.80 634.60L296.40 636.00Z" fill="#000" stroke="#000" stroke-width="0.7" stroke-linejoin="round"/>
<path d="M302.90 634.60L304.30 633.20L305.70 634.60L304.30 636.00Z" fill="#000" stroke="#000" stroke-width="0.7" stroke-linejoin="round"/>
<path d="M325.80 638.21L327.20 636.81L328.60 638.21L327.20 639.61Z" fill="#000" stroke="#000" stroke-width="0.7" stroke-linejoin="round"/>
<path d="M325.50 641.81L326.90 640.41L328.30 641.81L326.90 643.21Z" fill="#000" stroke="#000" stroke-width="0.7" stroke-linejoin="round"/>
<path d="M332.80 645.42L334.20 644.02L335.60 645.42L334.20 646.82Z" fill="#000" stroke="#000" stroke-width="0.7" stroke-linejoin="round"/>
<path d="M325.10 649.02L326.50 647.62L327.90 649.02L326.50 650.42Z" fill="#000" stroke="#000" stroke-width="0.7" stroke-linejoin="round"/>
<path d="M342.00 649.02L343.40 647.62L344.80 649.02L343.40 650.42Z" fill="#000" stroke="#000" stroke-width="0.7" stroke-linejoin="round"/>
<line x1="223.50" y1="583.00" x2="349.40" y2="648.40" stroke="#000" stroke-width="1.3"/>
<path d="M151.8 505.1L154.3 503.1L156.8 505.1L154.3 507.1Z" fill="#000" stroke="#000" stroke-width="0.4" stroke-linejoin="round"/>
<text class="k" x="165.00" y="509.30" font-size="10.5" textLength="12.30" lengthAdjust="spacingAndGlyphs" fill="#111111">pH</text>
<line x1="203.50" y1="505.10" x2="221.30" y2="505.10" stroke="#000" stroke-width="1.5"/>
<text class="k" x="222.60" y="509.30" font-size="10.5" textLength="48.70" lengthAdjust="spacingAndGlyphs" fill="#111111">Linear (pH)</text>
<text class="l" x="296.90" y="593.40" font-size="8" textLength="28.20" lengthAdjust="spacingAndGlyphs" fill="#111111">R² = 0.9</text>
<text class="t" x="159.6" y="699.0" font-size="12" fill="#111111" textLength="68.6" lengthAdjust="spacingAndGlyphs">pCO<tspan font-size="9.2" dy="2.6">2</tspan><tspan dy="-2.6">-atm-cal</tspan></text>
</g>
</svg>
</body></html>
